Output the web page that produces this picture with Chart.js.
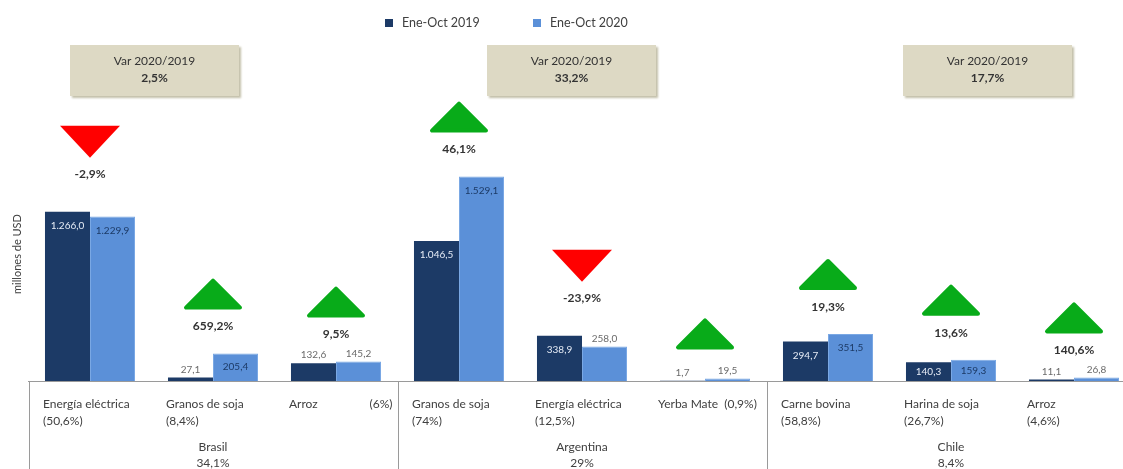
<!DOCTYPE html>
<html lang="es">
<head>
    <meta charset="UTF-8">
    <title>Exportaciones Ene-Oct 2019 / 2020</title>
    <script src="https://cdn.jsdelivr.net/npm/chart.js"></script>
    <style>
        body {
            margin: 0;
            background: #fff;
            font-family: Lato, "Open Sans", sans-serif;
            color: #404040;
        }
        .wrap {
            position: relative;
            width: 1123px;
            height: 469px;
            overflow: hidden;
        }
        canvas {
            position: absolute;
            left: 0;
            top: 0;
        }
        .legend {
            position: absolute;
            top: 15px;
            font-size: 12.5px;
            color: #404040;
        }
        .legend span.sw {
            display: inline-block;
            width: 8px;
            height: 8px;
            margin-right: 9px;
            vertical-align: 0px;
        }
        .varbox {
            position: absolute;
            top: 45px;
            width: 169px;
            height: 51px;
            background: #ddd9c4;
            box-shadow: 2px 2px 2px #c4c0aa;
            text-align: center;
            font-size: 12px;
            line-height: 17px;
            color: #333;
            padding-top: 7px;
            box-sizing: border-box;
        }
        .varbox b {
            display: block;
        }
    </style>
</head>
<body>
<div class="wrap">
    <canvas id="chart" width="1140" height="469"></canvas>

    <!-- legend -->
    <div class="legend" style="left:385px"><span class="sw" style="background:#1c3a66"></span>Ene-Oct 2019</div>
    <div class="legend" style="left:533px"><span class="sw" style="background:#5b90d8"></span>Ene-Oct 2020</div>

    <!-- variation boxes -->
    <div class="varbox" id="box0" style="left:70px"></div>
    <div class="varbox" id="box1" style="left:487px"></div>
    <div class="varbox" id="box2" style="left:903px"></div>
</div>

<script>
    // data
    var products = ['Energía eléctrica', 'Granos de soja', 'Arroz', 'Granos de soja', 'Energía eléctrica', 'Yerba Mate', 'Carne bovina', 'Harina de soja', 'Arroz'];
    var shares = ['(50,6%)', '(8,4%)', '(6%)', '(74%)', '(12,5%)', '(0,9%)', '(58,8%)', '(26,7%)', '(4,6%)'];
    var ene2019 = [1266.0, 27.1, 132.6, 1046.5, 338.9, 1.7, 294.7, 140.3, 11.1];
    var ene2020 = [1229.9, 205.4, 145.2, 1529.1, 258.0, 19.5, 351.5, 159.3, 26.8];
    var variation = [-2.9, 659.2, 9.5, 46.1, -23.9, null, 19.3, 13.6, 140.6];
    var countries = ['Brasil', 'Argentina', 'Chile'];
    var countryShares = ['34,1%', '29%', '8,4%'];
    var countryVar = ['2,5%', '33,2%', '17,7%'];

    // label placement: 1 = inside the bar, 0 = above
    var inside2019 = [1, 0, 0, 1, 1, 0, 1, 1, 0];
    var inside2020 = [1, 1, 0, 1, 0, 0, 1, 1, 0];
    // share written on the same line as the product
    var shareInline = ['', '', 'right', '', '', 'after', '', '', ''];

    var C2019 = '#1c3a66';
    var C2020 = '#5b90d8';
    var FONT = 'Lato, "Open Sans", sans-serif';

    for (var b = 0; b < 3; b++) {
        document.getElementById('box' + b).innerHTML = 'Var 2020/2019<b>' + countryVar[b] + '</b>';
    }

    function fmt(v) {
        var s = v.toFixed(1).split('.');
        var int = s[0].replace(/\B(?=(\d{3})+(?!\d))/g, '.');
        return int + ',' + s[1];
    }
    function fmtPct(v) {
        return v.toFixed(1).replace('.', ',') + '%';
    }

    var overlay = {
        id: 'overlay',
        afterDatasetsDraw: function (chart) {
            var ctx = chart.ctx;
            var xs = chart.scales.x, ys = chart.scales.y;
            var m0 = chart.getDatasetMeta(0), m1 = chart.getDatasetMeta(1);
            var base = ys.getPixelForValue(0);
            var metas = [m0, m1];
            var vals = [ene2019, ene2020];
            var ins = [inside2019, inside2020];

            ctx.save();
            ctx.textAlign = 'center';
            ctx.textBaseline = 'middle';
            ctx.font = '10px ' + FONT;
            for (var d = 0; d < 2; d++) {
                for (var i = 0; i < products.length; i++) {
                    var bar = metas[d].data[i];
                    var top = bar.y;
                    var ty;
                    if (ins[d][i]) {
                        ty = Math.min(top + 14, (top + base) / 2);
                        ctx.fillStyle = d === 0 ? '#e6ecf6' : '#1c3a66';
                    } else {
                        ty = top - 8;
                        ctx.fillStyle = '#6a6a6a';
                    }
                    ctx.fillText(fmt(vals[d][i]), bar.x, ty);
                }
            }

            // variation arrows + percent
            for (var i = 0; i < products.length; i++) {
                var cx = xs.getPixelForValue(i);
                var pairTop = Math.min(m0.data[i].y, m1.data[i].y);
                var up = ene2020[i] >= ene2019[i];
                var textY = pairTop - (up ? 27 : 38);
                if (variation[i] !== null) {
                    ctx.font = 'bold 12px ' + FONT;
                    ctx.fillStyle = '#333';
                    ctx.fillText(fmtPct(variation[i]), cx, textY);
                } else {
                    textY = pairTop - 12;
                }
                ctx.beginPath();
                if (up) {
                    var bot = textY - 19;
                    ctx.moveTo(cx - 27, bot);
                    ctx.lineTo(cx + 27, bot);
                    ctx.lineTo(cx, bot - 27);
                    ctx.closePath();
                    ctx.fillStyle = '#08ab19';
                    ctx.strokeStyle = '#08ab19';
                    ctx.lineJoin = 'round';
                    ctx.lineWidth = 4;
                    ctx.fill();
                    ctx.stroke();
                } else {
                    var apex = textY - 16;
                    ctx.moveTo(cx - 30, apex - 32);
                    ctx.lineTo(cx + 30, apex - 32);
                    ctx.lineTo(cx, apex);
                    ctx.closePath();
                    ctx.fillStyle = '#ff0000';
                    ctx.fill();
                }
            }

            // category axis: separators and labels
            var step = xs.getPixelForValue(1) - xs.getPixelForValue(0);
            ctx.strokeStyle = '#9a9a9a';
            ctx.lineWidth = 1;
            var seps = [xs.left, xs.getPixelForValue(2) + step / 2, xs.getPixelForValue(5) + step / 2, xs.right];
            for (var s = 0; s < seps.length; s++) {
                ctx.beginPath();
                ctx.moveTo(Math.round(seps[s]) + 0.5, base);
                ctx.lineTo(Math.round(seps[s]) + 0.5, chart.height);
                ctx.stroke();
            }

            ctx.font = '12px ' + FONT;
            ctx.fillStyle = '#404040';
            ctx.textBaseline = 'middle';
            for (var i = 0; i < products.length; i++) {
                var cx = xs.getPixelForValue(i);
                var lx = cx - 47;
                ctx.textAlign = 'left';
                if (shareInline[i] === 'after') {
                    ctx.fillText(products[i] + '  ' + shares[i], lx, base + 23);
                } else if (shareInline[i] === 'right') {
                    ctx.fillText(products[i], lx, base + 23);
                    ctx.textAlign = 'right';
                    ctx.fillText(shares[i], cx + step / 2 - 5, base + 23);
                } else {
                    ctx.fillText(products[i], lx, base + 23);
                    ctx.fillText(shares[i], lx, base + 40);
                }
            }
            ctx.textAlign = 'center';
            for (var g = 0; g < countries.length; g++) {
                var gx = xs.getPixelForValue(g * 3 + 1);
                ctx.fillText(countries[g], gx, base + 66);
                ctx.fillText(countryShares[g], gx, base + 82);
            }
            ctx.restore();
        }
    };

    var ctx = document.getElementById('chart').getContext('2d');
    var chart = new Chart(ctx, {
        type: 'bar',
        data: {
            labels: products,
            datasets: [{
                label: 'Ene-Oct 2019',
                data: ene2019,
                backgroundColor: C2019,
                categoryPercentage: 0.732,
                barPercentage: 1.0
            }, {
                label: 'Ene-Oct 2020',
                data: ene2020,
                backgroundColor: C2020,
                borderColor: '#7aa8e4',
                borderWidth: { top: 1, left: 1, right: 1, bottom: 0 },
                categoryPercentage: 0.732,
                barPercentage: 1.0
            }]
        },
        options: {
            responsive: false,
            animation: false,
            devicePixelRatio: 1,
            layout: { padding: { top: 127, right: 4.5, left: 0, bottom: 0 } },
            plugins: {
                legend: { display: false },
                tooltip: { enabled: false }
            },
            scales: {
                x: {
                    grid: { display: false },
                    border: { color: '#9a9a9a' },
                    ticks: { display: false },
                    afterFit: function (s) { s.height = 88; }
                },
                y: {
                    min: 0,
                    max: 1900,
                    grid: { display: false },
                    border: { display: false },
                    ticks: { display: false },
                    title: {
                        display: true,
                        text: 'millones de USD',
                        color: '#404040',
                        font: { family: FONT, size: 11 },
                        padding: { top: 11, bottom: 0 }
                    },
                    afterFit: function (s) { s.width = 28.5; }
                }
            }
        },
        plugins: [overlay]
    });
</script>
</body>
</html>
